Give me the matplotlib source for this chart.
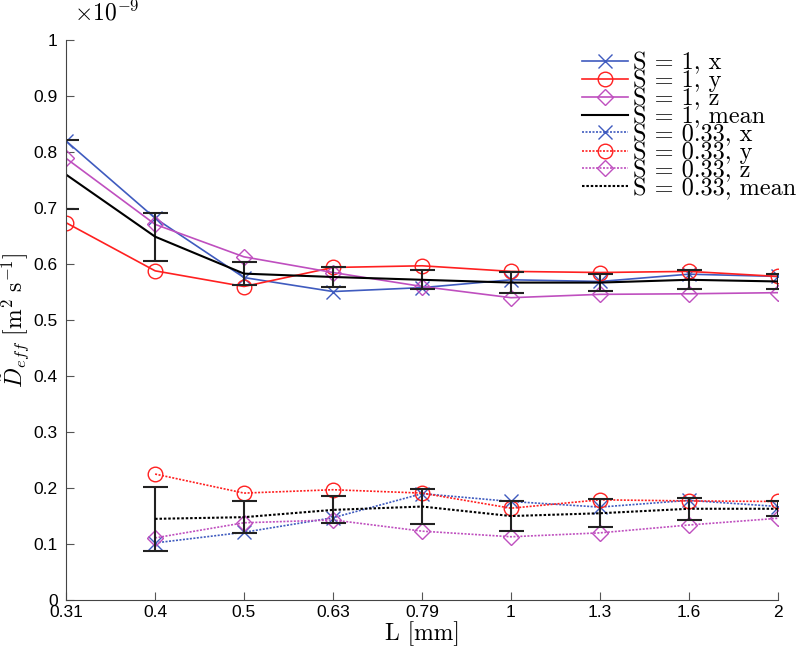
import numpy as np
import matplotlib
matplotlib.use('Agg')
import matplotlib.pyplot as plt
from matplotlib.lines import Line2D

# ---- data (values in units of 1e-9 m^2/s) ----
L = [0.315, 0.397, 0.5, 0.63, 0.794, 1.0, 1.26, 1.587, 2.0]
L_labels = ['0.31', '0.4', '0.5', '0.63', '0.79', '1', '1.3', '1.6', '2']

s1_x = [0.820, 0.682, 0.576, 0.551, 0.558, 0.572, 0.569, 0.582, 0.578]
s1_y = [0.674, 0.588, 0.560, 0.594, 0.597, 0.587, 0.585, 0.587, 0.578]
s1_z = [0.789, 0.671, 0.613, 0.585, 0.560, 0.540, 0.546, 0.547, 0.549]
s1_mean = [0.760, 0.649, 0.583, 0.577, 0.572, 0.567, 0.567, 0.572, 0.569]
s1_err = [0.061, 0.043, 0.021, 0.018, 0.017, 0.019, 0.015, 0.017, 0.013]

L2 = L[1:]
s2_x = [0.102, 0.121, 0.147, 0.190, 0.176, 0.166, 0.178, 0.167]
s2_y = [0.225, 0.191, 0.197, 0.191, 0.164, 0.179, 0.177, 0.176]
s2_z = [0.111, 0.138, 0.143, 0.123, 0.113, 0.120, 0.134, 0.146]
s2_mean = [0.145, 0.148, 0.161, 0.167, 0.150, 0.155, 0.163, 0.163]
s2_err = [0.057, 0.028, 0.024, 0.032, 0.026, 0.025, 0.020, 0.013]

labels = ['S = 1, x', 'S = 1, y', 'S = 1, z', 'S = 1, mean',
          'S = 0.33, x', 'S = 0.33, y', 'S = 0.33, z', 'S = 0.33, mean']

blue = '#3f5bbf'
red = '#ff2020'
mag = '#bf4fbf'
dot = (0, (1.2, 0.9))

plt.rcParams['mathtext.fontset'] = 'cm'
plt.rcParams['font.family'] = 'Liberation Sans'

fig = plt.figure(figsize=(8, 6.51), dpi=100)
ax = fig.add_axes([0.0825, 0.0783, 0.89, 0.860])

ms = 10.5
lw = 1.2
h = []
h += ax.plot(L, s1_x, marker='x', ls='-', color=blue, ms=ms, mfc='none', lw=lw)
h += ax.plot(L, s1_y, marker='o', ls='-', color=red, ms=ms, mfc='none', lw=lw)
h += ax.plot(L, s1_z, marker='D', ls='-', color=mag, ms=ms * 0.8, mfc='none', lw=lw)
ax.errorbar(L, s1_mean, yerr=s1_err, fmt='-', color='black', ecolor='#222222', lw=1.5,
            elinewidth=1.5, capsize=9, capthick=1.5)
h.append(Line2D([], [], color='black', lw=1.5, ls='-'))
h += ax.plot(L2, s2_x, marker='x', ls=dot, color=blue, ms=ms, mfc='none', lw=lw)
h += ax.plot(L2, s2_y, marker='o', ls=dot, color=red, ms=ms, mfc='none', lw=lw)
h += ax.plot(L2, s2_z, marker='D', ls=dot, color=mag, ms=ms * 0.8, mfc='none', lw=lw)
ax.errorbar(L2, s2_mean, yerr=s2_err, fmt='none', ecolor='#222222',
            elinewidth=1.5, capsize=9, capthick=1.5)
ax.plot(L2, s2_mean, color='black', ls=dot, lw=1.5)
h.append(Line2D([], [], color='black', lw=1.5, ls=dot))

ax.set_xscale('log')
ax.set_xlim(L[0], L[-1])
ax.set_ylim(0, 1)
ax.set_xticks(L)
ax.set_xticklabels(L_labels)
ax.minorticks_off()
ax.set_yticks(np.arange(0, 1.01, 0.1))
ax.set_yticklabels(['0', '0.1', '0.2', '0.3', '0.4', '0.5', '0.6', '0.7', '0.8', '0.9', '1'])
ax.tick_params(direction='in', length=6, labelsize=12.5, colors='#555555', labelcolor='black')
ax.tick_params(axis='y', pad=6)
for sp in ['top', 'right']:
    ax.spines[sp].set_visible(False)
for sp in ['left', 'bottom']:
    ax.spines[sp].set_color('#444444')

ax.set_xlabel('L [mm]', family='cmr10', fontsize=17, labelpad=1)
ax.set_ylabel(r'$\tilde{D}_{eff}\ [\mathrm{m}^2\ \mathrm{s}^{-1}]$', fontsize=17, labelpad=1)
fig.text(0.093, 0.98, r'$\times10^{-9}$', fontsize=17, va='center')

leg = fig.legend(h, labels, loc='upper left', bbox_to_anchor=(582 / 800, 1 - 52 / 651),
                 frameon=False, prop={'family': 'cmr10', 'size': 17.5},
                 handlelength=1.9, handletextpad=0.2, labelspacing=-0.18,
                 borderpad=0, borderaxespad=0)

fig.savefig('out.png', dpi=100)
